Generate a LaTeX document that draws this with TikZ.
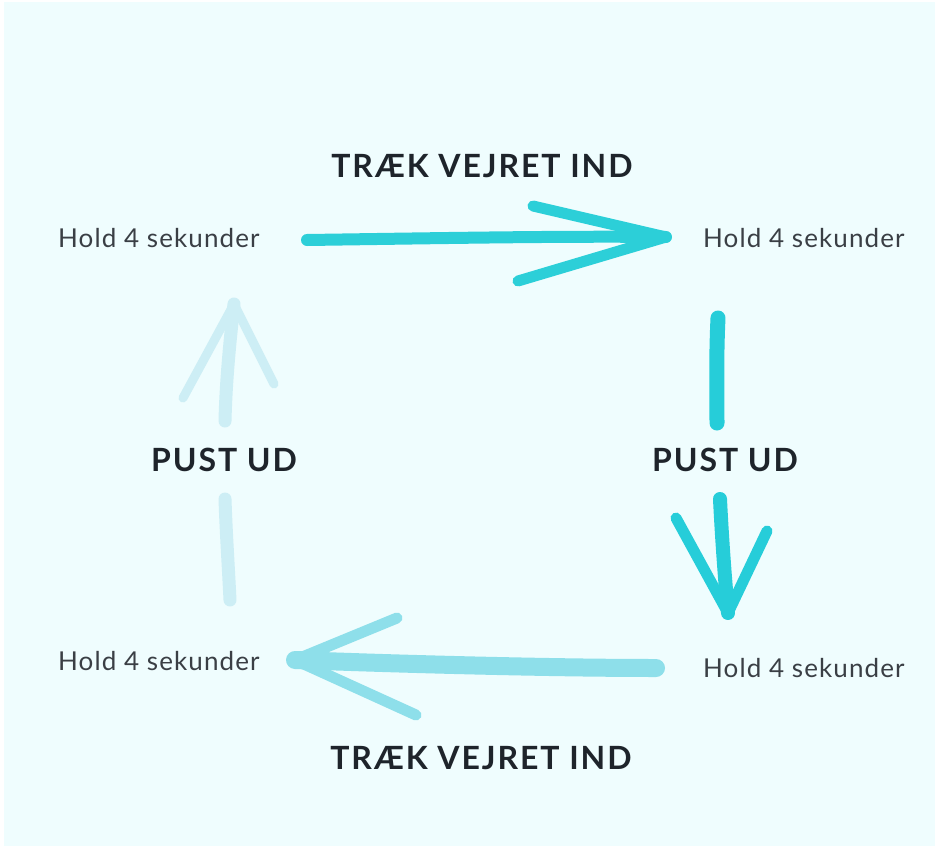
\documentclass[tikz,border=0pt]{standalone}
\usepackage{fontspec}
\setmainfont{Lato}
\newfontfamily\holdfont[LetterSpace=4.2]{Lato}
\newfontfamily\phasefont[LetterSpace=6]{Lato}
\definecolor{bgc}{HTML}{EFFDFE}
\definecolor{txtdark}{HTML}{1E242B}
\definecolor{txtreg}{HTML}{3A3F45}
\definecolor{aTop}{HTML}{2CCFD8}
\definecolor{aRight}{HTML}{26CDD9}
\definecolor{aBottom}{HTML}{8EDFEA}
\definecolor{aLeft}{HTML}{CDEEF5}
\tikzset{
  hold/.style={inner sep=0pt, anchor=west, text=txtreg, font=\holdfont\fontsize{26}{30}\selectfont},
  phase/.style={inner sep=0pt, text=txtdark, font=\phasefont\bfseries\fontsize{32}{36}\selectfont},
  stroke/.style={line cap=round, line join=round}
}
\begin{document}
\begin{tikzpicture}[x=1pt,y=-1pt]
\useasboundingbox (0,0) rectangle (935,846);
\fill[white] (0,0) rectangle (935,846);
\fill[bgc] (4,2) rectangle (935,846);
% texts
\node[phase] (inTop) at (482,166) {TRÆK VEJRET IND};
\node[phase] (inBot) at (481,758) {TRÆK VEJRET IND};
\node[phase] (outL) at (224,460) {PUST UD};
\node[phase] (outR) at (725,460) {PUST UD};
\node[hold] (hTL) at (58,238) {Hold 4 sekunder};
\node[hold] (hTR) at (703,238) {Hold 4 sekunder};
\node[hold] (hBL) at (58,661) {Hold 4 sekunder};
\node[hold] (hBR) at (703,668) {Hold 4 sekunder};
% top arrow
\coordinate (tS) at (307,240);
\coordinate (tT) at (666,237);
\coordinate (tB1) at (533,206);
\coordinate (tB2) at (518,281);
\draw[stroke, aTop, line width=12] (tS) .. controls (450,238) and (560,236) .. (tT);
\draw[stroke, aTop, line width=11] (tB1) -- (tT) -- (tB2);
% right arrow
\coordinate (rS) at (718,318);
\coordinate (rM) at (717,423);
\coordinate (rN) at (720,499);
\coordinate (rT) at (728,613);
\coordinate (rB1) at (676,518);
\coordinate (rB2) at (767,531);
\draw[stroke, aRight, line width=15] (rS) .. controls (716,360) and (717,400) .. (rM);
\draw[stroke, aRight, line width=14] (rN) .. controls (722,540) and (725,580) .. (rT);
\draw[stroke, aRight, line width=11] (rB1) -- (rT) -- (rB2);
% bottom arrow
\coordinate (bS) at (656,668);
\coordinate (bT) at (295,660);
\coordinate (bB1) at (397,618);
\coordinate (bB2) at (416,715);
\draw[stroke, aBottom, line width=18] (bS) .. controls (550,668) and (400,664) .. (bT);
\draw[stroke, aBottom, line width=11] (bB1) -- (bT) -- (bB2);
% left arrow
\coordinate (lS) at (230,600);
\coordinate (lM) at (225,499);
\coordinate (lN) at (225,421);
\coordinate (lT) at (234,304);
\coordinate (lB1) at (183,398);
\coordinate (lB2) at (274,384);
\draw[stroke, aLeft, line width=13] (lS) .. controls (228,560) and (226,530) .. (lM);
\draw[stroke, aLeft, line width=13] (lN) .. controls (226,380) and (230,340) .. (lT);
\draw[stroke, aLeft, line width=9] (lB1) -- (lT) -- (lB2);
\end{tikzpicture}
\end{document}
